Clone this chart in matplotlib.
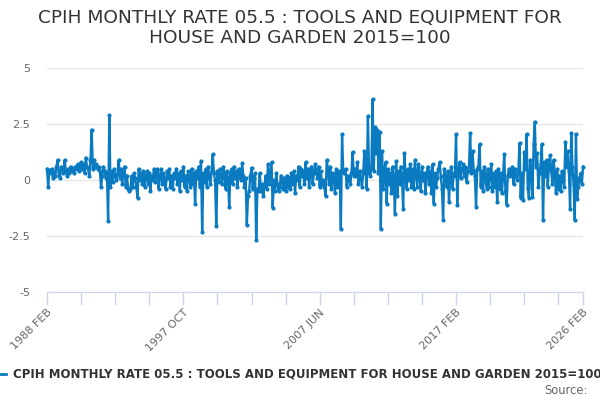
import numpy as np
import pandas as pd
import matplotlib.pyplot as plt
from matplotlib.lines import Line2D

# ================= DATA (monthly rate, %) =================
TITLE = "CPIH MONTHLY RATE 05.5 : TOOLS AND EQUIPMENT FOR\nHOUSE AND GARDEN 2015=100"
SERIES_NAME = "CPIH MONTHLY RATE 05.5 : TOOLS AND EQUIPMENT FOR HOUSE AND GARDEN 2015=100"
START, END = "1988-02", "2026-02"

rate_1988_1997 = [
    0.5, -0.3, 0.45, 0.3, 0.5, 0.1, 0.35, 0.2, 0.6, 0.9, 0.2,          # 1988 (Feb-Dec)
    0.1, 0.6, 0.5, 0.3, 0.9, 0.4, 0.2, 0.5, 0.3, 0.6, 0.4, 0.5,        # 1989
    0.3, 0.6, 0.5, 0.7, 0.4, 0.6, 0.8, 0.5, 0.7, 0.3, 1.0, 0.6,        # 1990
    0.5, 0.2, 0.9, 2.25, 0.5, 0.9, 0.6, 0.7, 0.5, 0.6, 0.4, -0.3,      # 1991
    0.2, 0.6, 0.4, 0.1, 0.3, -1.85, 2.9, -0.3, 0.4, -0.1, 0.5, 0.2,    # 1992
    0.0, 0.3, 0.9, 0.1, 0.5, -0.2, 0.4, 0.6, -0.3, 0.2, -0.4, -0.5,    # 1993
    -0.4, 0.2, -0.3, 0.3, 0.1, -0.3, -0.8, 0.5, 0.0, 0.3, -0.2, 0.4,   # 1994
    -0.3, 0.1, 0.4, -0.2, 0.3, -0.5, 0.2, 0.0, 0.5, -0.1, 0.3, 0.5,    # 1995
    -0.4, 0.2, 0.5, -0.2, 0.3, 0.0, -0.4, 0.4, 0.1, 0.5, -0.3, 0.2,    # 1996
    -0.4, 0.3, 0.1, 0.5, -0.2, 0.3, -0.5, 0.4, 0.0, 0.6, -0.3, 0.2,    # 1997
]
rate_1998_2007 = [
    -0.5, 0.4, 0.1, -0.3, 0.5, -0.2, 0.3, -1.05, 0.4, 0.1, 0.6, -0.3,  # 1998
    0.85, -2.3, 0.3, -0.1, 0.5, -0.3, 0.6, 0.2, -0.2, 0.4, 1.15, 0.3,  # 1999
    0.0, -2.05, 0.4, -0.1, 0.5, 0.2, -0.2, 0.6, 0.3, -0.4, 0.4, 0.1,   # 2000
    -1.2, 0.3, 0.5, -0.2, 0.6, 0.1, 0.4, -0.3, 0.5, 0.2, 0.0, 0.75,    # 2001
    0.2, -0.3, 0.1, -2.0, -0.7, -0.5, 0.2, 0.55, -0.4, 0.1, 0.3, -2.7, # 2002
    -0.4, -0.5, 0.3, -0.5, -0.2, -0.7, -0.3, 0.2, -0.4, 0.7, -0.2, 0.3,# 2003
    0.8, -1.25, 0.0, -0.5, 0.3, -0.2, -0.5, -0.3, 0.2, -0.1, -0.4, 0.1,# 2004
    -0.5, 0.2, -0.3, 0.1, -0.4, 0.3, -0.2, 0.4, -0.6, 0.2, 0.0, 0.6,   # 2005
    -0.3, 0.5, 0.2, 0.4, -0.2, 0.8, 0.1, 0.5, -0.3, 0.3, 0.6, -0.2,    # 2006
    0.3, 0.7, 0.4, 0.1, 0.6, -0.3, 0.4, -0.2, 0.0, -0.3, -0.7, 0.9,    # 2007
]
rate_2008_2017 = [
    0.5, -0.2, 0.6, -0.4, 0.3, 0.1, -0.6, 0.5, -0.3, 0.4, 0.3, -2.2,   # 2008
    2.05, 0.4, 0.3, 0.5, -0.3, 0.2, 0.0, -0.2, 0.3, 1.25, 0.2, 0.5,    # 2009
    0.2, 0.8, -0.2, 0.4, 0.1, -0.3, 0.3, 1.3, 0.4, -0.4, 2.85, 0.3,    # 2010
    0.2, 0.6, 3.6, 0.4, 2.35, 1.2, 2.25, 0.3, 2.15, -2.2, 1.3, -0.4,   # 2011
    0.5, 0.8, -1.05, 0.5, -0.2, 0.3, -0.6, 0.6, 0.1, -1.5, 0.85, -0.7, # 2012
    0.4, -0.2, 0.6, 0.1, -1.3, 1.2, 0.3, -0.4, 0.5, 0.0, 0.7, -0.3,    # 2013
    0.5, -0.4, 0.9, 0.3, -0.3, 0.7, 0.2, -0.5, 0.6, 0.0, 0.3, -0.6,    # 2014
    0.3, 0.6, -0.2, 0.4, -0.6, 0.7, -1.05, 0.3, -0.3, 0.1, 0.5, 0.8,   # 2015
    0.2, -0.4, -1.8, 0.5, 0.0, -0.3, 0.4, -1.0, 0.2, 0.6, -0.4, 0.3,   # 2016
    0.2, 2.05, -1.1, 0.3, 0.8, 0.1, 0.5, 0.7, 0.2, 0.6, -0.1, 0.4,     # 2017
]
rate_2018_2026 = [
    0.6, 2.1, 0.3, 1.3, 0.4, 0.2, -1.2, 0.5, 0.6, 1.6, -0.3, 0.4,      # 2018
    -0.5, 0.6, 0.1, -0.4, 0.5, -0.3, 0.2, 0.7, -0.5, 0.3, -0.3, 0.4,   # 2019
    -1.0, 0.5, -0.4, 0.3, -0.6, 0.2, 1.15, -0.5, -1.1, 0.2, 0.5, 0.2,  # 2020
    0.3, 0.6, -0.2, 0.5, 0.2, 0.0, 0.4, 1.65, -0.8, 0.3, -0.9, 1.25,   # 2021
    0.5, 2.05, -0.35, -0.8, 0.9, 0.4, -0.75, 1.6, 2.6, 0.6, 1.2, -0.3, # 2022
    0.3, 0.7, 1.6, -1.8, 0.8, 0.2, 0.9, -0.3, 0.6, 1.1, 0.4, -0.2,     # 2023
    0.9, 0.3, -0.6, 0.5, -0.4, 0.2, -0.5, 0.4, 0.0, -0.3, 1.7, 0.6,    # 2024
    1.3, 0.4, -1.3, 2.1, 0.6, -0.2, -1.8, 2.05, -0.85, -0.3, 0.1, 0.3, # 2025
    -0.2, 0.6,                                                         # 2026 (Jan-Feb)
]

LABELLED_MONTHS = ["1988 FEB", "1997 OCT", "2007 JUN", "2017 FEB", "2026 FEB"]
Y_TICKS = [-5, -2.5, 0, 2.5, 5]

# ================= STYLE =================
LINE_COLOR = "#0b7bc1"
GRID_COLOR = "#e6e6e6"
AXIS_COLOR = "#ccd6eb"
TEXT_COLOR = "#333333"
LABEL_COLOR = "#666666"


def build_series():
    values = rate_1988_1997 + rate_1998_2007 + rate_2008_2017 + rate_2018_2026
    months = pd.period_range(START, END, freq="M")
    labels = [f"{p.year} {p.strftime('%b').upper()}" for p in months]
    assert len(values) == len(labels), (len(values), len(labels))
    return np.array(values), labels


def main():
    values, labels = build_series()
    idx = np.arange(len(values))

    fig = plt.figure(figsize=(6, 4), dpi=100)
    ax = fig.add_axes([47 / 600, 1 - 292 / 400, 536 / 600, 224 / 400])

    for side in ["top", "right", "left"]:
        ax.spines[side].set_visible(False)
    ax.spines["bottom"].set_color(AXIS_COLOR)

    ax.plot(idx, values, color=LINE_COLOR, linewidth=1.7, marker="o",
            markersize=3.0, markeredgewidth=0, zorder=3, clip_on=False)

    ax.set_xlim(0, len(values) - 1)
    ax.set_ylim(-5, 5)

    # y axis: gridlines only
    ax.set_yticks(Y_TICKS)
    ax.set_yticklabels([f"{t:g}" for t in Y_TICKS], color=LABEL_COLOR, fontsize=8)
    ax.yaxis.grid(True, color=GRID_COLOR, linewidth=1)
    ax.tick_params(axis="y", length=0, pad=12)

    # x axis: tick every 29 months plus the last month
    tick_pos = list(range(0, len(values) - 10, 29)) + [len(values) - 1]
    tick_lab = [labels[p] if labels[p] in LABELLED_MONTHS else "" for p in tick_pos]
    ax.set_xticks(tick_pos)
    ax.set_xticklabels(tick_lab)
    ax.tick_params(axis="x", length=9, color=AXIS_COLOR, width=1, pad=2,
                   labelcolor=LABEL_COLOR, labelsize=8)
    for lab in ax.get_xticklabels():
        lab.set_rotation(45)
        lab.set_ha("right")
        lab.set_rotation_mode("anchor")
    ax.set_axisbelow(True)

    fig.text(0.5, 1 - 28 / 400, TITLE, ha="center", va="center",
             fontsize=13.3, color=TEXT_COLOR, linespacing=1.2)

    # legend drawn by hand (it runs past the right edge in the original)
    fig.add_artist(Line2D([0 / 600, 6 / 600], [1 - 374 / 400] * 2,
                          color=LINE_COLOR, linewidth=2))
    fig.text(13 / 600, 1 - 374 / 400, SERIES_NAME, ha="left", va="center",
             fontsize=8.5, fontweight="bold", color=TEXT_COLOR)
    fig.text(588 / 600, 1 - 390 / 400, "Source:", ha="right", va="center",
             fontsize=8.3, color=LABEL_COLOR)

    fig.savefig("out.png", dpi=100)
    plt.close(fig)


if __name__ == "__main__":
    main()
